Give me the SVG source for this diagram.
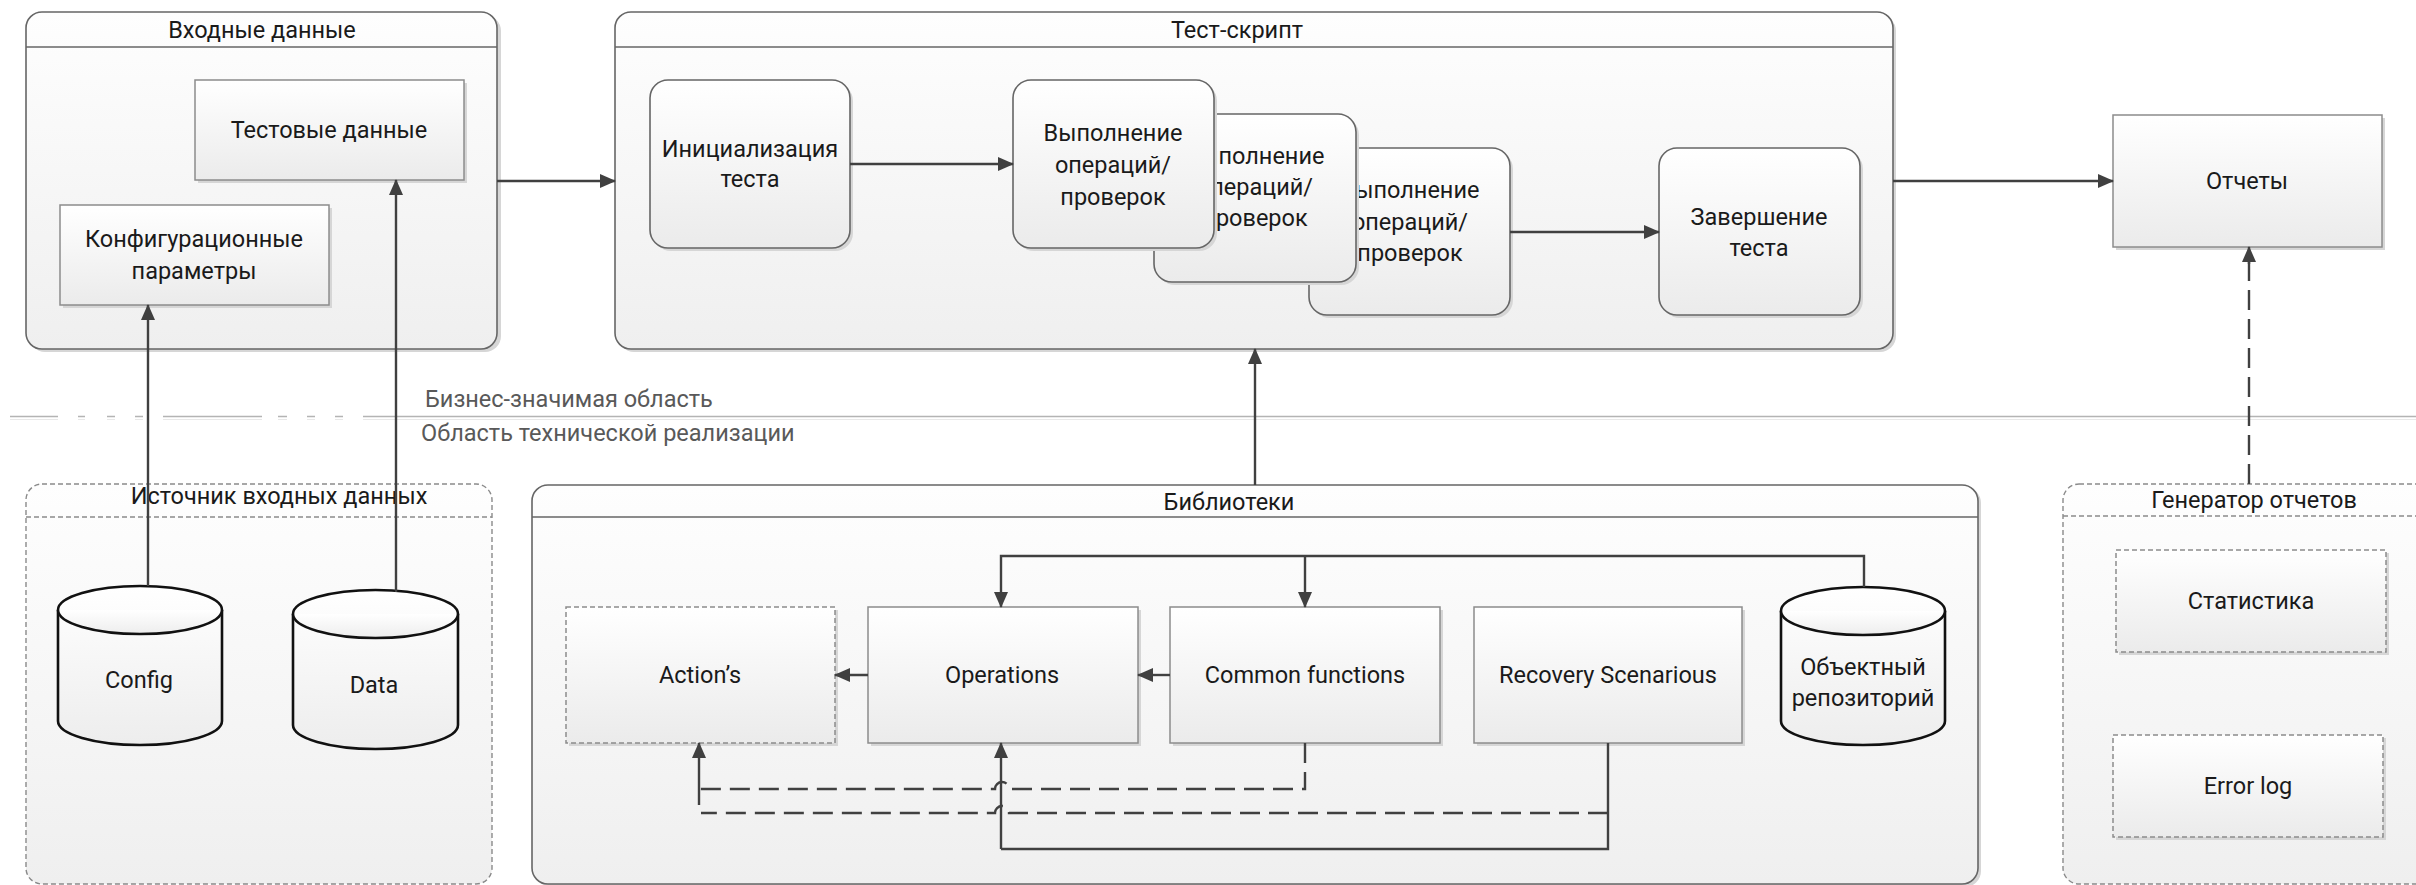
<svg xmlns="http://www.w3.org/2000/svg" width="2416" height="885" viewBox="0 0 2416 885">
<defs>
<linearGradient id="gNode" x1="0" y1="0" x2="0" y2="1"><stop offset="0" stop-color="#ffffff"/><stop offset="1" stop-color="#ebebeb"/></linearGradient>
<linearGradient id="gCont" x1="0" y1="0" x2="0" y2="1"><stop offset="0" stop-color="#fefefe"/><stop offset="1" stop-color="#efefef"/></linearGradient>
<linearGradient id="gCyl" x1="0" y1="0" x2="0" y2="1"><stop offset="0" stop-color="#ffffff"/><stop offset="1" stop-color="#ededed"/></linearGradient>
<marker id="ah" viewBox="0 0 16 14" refX="15" refY="7" markerWidth="16" markerHeight="14" markerUnits="userSpaceOnUse" orient="auto"><path d="M0,0 L16,7 L0,14 Z" fill="#404040"/></marker>
<style>
text{font-family:Roboto,"Noto Sans","Liberation Sans",sans-serif;font-size:23.5px;fill:#1a1a1a;text-anchor:middle}
.lbl{fill:#595959;text-anchor:start}
.cont{fill:url(#gCont);stroke:#666666;stroke-width:1.6}
.contd{fill:url(#gCont);stroke:#8a8a8a;stroke-width:1.4;stroke-dasharray:5 3}
.hdr{stroke:#666666;stroke-width:1.6;fill:none}
.hdrd{stroke:#8a8a8a;stroke-width:1.4;stroke-dasharray:5 3;fill:none}
.shd{fill:#d6d6d6}
.node{fill:url(#gNode);stroke:#8c8c8c;stroke-width:1.5}
.noded{fill:url(#gNode);stroke:#8c8c8c;stroke-width:1.5;stroke-dasharray:5 3}
.rnode{fill:url(#gNode);stroke:#666666;stroke-width:1.6}
.cyl{fill:url(#gCyl);stroke:#111111;stroke-width:2.6}
.cn{fill:none;stroke:#404040;stroke-width:2.4}
.cna{fill:none;stroke:#404040;stroke-width:2.4;marker-end:url(#ah)}
.dash{fill:none;stroke:#404040;stroke-width:2.4;stroke-dasharray:20 9}
</style>
</defs>
<rect width="2416" height="885" fill="#ffffff"/>

<!-- separator -->
<g id="separator">
<line x1="10" y1="416.5" x2="2416" y2="416.5" stroke="#b4b4b4" stroke-width="1.6"/>
<line x1="10" y1="419.5" x2="2416" y2="419.5" stroke="#e8e8e8" stroke-width="1.2"/>
<g fill="#ffffff">
<rect x="58" y="414" width="20" height="7"/><rect x="85" y="414" width="22" height="7"/><rect x="115" y="414" width="20" height="7"/><rect x="143" y="414" width="20" height="7"/>
<rect x="262" y="414" width="16" height="7"/><rect x="287" y="414" width="20" height="7"/><rect x="315" y="414" width="20" height="7"/><rect x="343" y="414" width="20" height="7"/>
</g>
<text class="lbl" x="425" y="407">Бизнес-значимая область</text>
<text class="lbl" x="421" y="441">Область технической реализации</text>
</g>

<!-- top containers -->
<g id="vhodnye">
<rect class="shd" x="29" y="15" width="472" height="337" rx="16"/>
<rect class="cont" x="26" y="12" width="471" height="337" rx="16"/>
<line class="hdr" x1="26" y1="47" x2="497" y2="47"/>
<text x="262" y="38">Входные данные</text>
</g>
<g id="testscript">
<rect class="shd" x="618" y="15" width="1278" height="337" rx="16"/>
<rect class="cont" x="615" y="12" width="1278" height="337" rx="16"/>
<line class="hdr" x1="615" y1="47" x2="1893" y2="47"/>
<text x="1237" y="38">Тест-скрипт</text>
</g>

<g id="testdata">
<rect class="shd" x="198" y="83" width="269" height="100"/>
<rect class="node" x="195" y="80" width="269" height="100"/>
<text x="329" y="138">Тестовые данные</text>
</g>
<g id="config-params">
<rect class="shd" x="63" y="208" width="269" height="100"/>
<rect class="node" x="60" y="205" width="269" height="100"/>
<text x="194" y="247">Конфигурационные</text>
<text x="194" y="279">параметры</text>
</g>

<g id="init">
<rect class="shd" x="653" y="83" width="200" height="168" rx="18"/>
<rect class="rnode" x="650" y="80" width="200" height="168" rx="18"/>
<text x="750" y="157">Инициализация</text>
<text x="750" y="187">теста</text>
</g>
<g id="exec3">
<rect class="shd" x="1312" y="151" width="201" height="167" rx="18"/>
<rect class="rnode" x="1309" y="148" width="201" height="167" rx="18"/>
<text x="1410" y="198">Выполнение</text>
<text x="1410" y="230">операций/</text>
<text x="1410" y="261">проверок</text>
</g>
<g id="exec2">
<rect class="shd" x="1157" y="117" width="202" height="168" rx="18"/>
<rect class="rnode" x="1154" y="114" width="202" height="168" rx="18"/>
<text x="1255" y="164">Выполнение</text>
<text x="1255" y="195">операций/</text>
<text x="1255" y="226">проверок</text>
</g>
<g id="exec1">
<rect class="shd" x="1016" y="83" width="201" height="168" rx="18"/>
<rect class="rnode" x="1013" y="80" width="201" height="168" rx="18"/>
<text x="1113" y="141">Выполнение</text>
<text x="1113" y="173">операций/</text>
<text x="1113" y="205">проверок</text>
</g>
<g id="finish">
<rect class="shd" x="1662" y="151" width="201" height="167" rx="18"/>
<rect class="rnode" x="1659" y="148" width="201" height="167" rx="18"/>
<text x="1759" y="225">Завершение</text>
<text x="1759" y="256">теста</text>
</g>
<g id="reports">
<rect class="shd" x="2116" y="118" width="269" height="132"/>
<rect class="node" x="2113" y="115" width="269" height="132"/>
<text x="2247" y="189">Отчеты</text>
</g>

<!-- bottom containers -->
<g id="source">
<rect class="contd" x="26" y="484" width="466" height="400" rx="16"/>
<line class="hdrd" x1="26" y1="517" x2="492" y2="517"/>
<text x="279" y="504">Источник входных данных</text>
</g>
<g id="libs">
<rect class="shd" x="535" y="487" width="1446" height="400" rx="16"/>
<rect class="cont" x="532" y="485" width="1446" height="399" rx="16"/>
<line class="hdr" x1="532" y1="517" x2="1978" y2="517"/>
<text x="1229" y="510">Библиотеки</text>
</g>
<g id="reportgen">
<rect class="contd" x="2063" y="484" width="380" height="400" rx="16"/>
<line class="hdrd" x1="2063" y1="516" x2="2443" y2="516"/>
<text x="2254" y="508">Генератор отчетов</text>
</g>

<g id="cfg-db">
<path class="cyl" d="M58,610 A82,24 0 0 1 222,610 V721 A82,24 0 0 1 58,721 Z"/>
<path class="cyl" fill="none" d="M58,610 A82,24 0 0 0 222,610"/>
<text x="139" y="688">Config</text>
</g>
<g id="data-db">
<path class="cyl" d="M293,614 A82.5,24 0 0 1 458,614 V725 A82.5,24 0 0 1 293,725 Z"/>
<path class="cyl" fill="none" d="M293,614 A82.5,24 0 0 0 458,614"/>
<text x="374" y="693">Data</text>
</g>

<g id="actions">
<rect class="shd" x="569" y="610" width="269" height="136"/>
<rect class="noded" x="566" y="607" width="269" height="136"/>
<text x="700" y="683">Action’s</text>
</g>
<g id="operations">
<rect class="shd" x="871" y="610" width="270" height="136"/>
<rect class="node" x="868" y="607" width="270" height="136"/>
<text x="1002" y="683">Operations</text>
</g>
<g id="common">
<rect class="shd" x="1173" y="610" width="270" height="136"/>
<rect class="node" x="1170" y="607" width="270" height="136"/>
<text x="1305" y="683">Common functions</text>
</g>
<g id="recovery">
<rect class="shd" x="1477" y="610" width="268" height="136"/>
<rect class="node" x="1474" y="607" width="268" height="136"/>
<text x="1608" y="683">Recovery Scenarious</text>
</g>
<g id="repo">
<path class="cyl" d="M1781,611 A82,24 0 0 1 1945,611 V721 A82,24 0 0 1 1781,721 Z"/>
<path class="cyl" fill="none" d="M1781,611 A82,24 0 0 0 1945,611"/>
<text x="1863" y="675">Объектный</text>
<text x="1863" y="706">репозиторий</text>
</g>

<g id="stats">
<rect class="shd" x="2119" y="553" width="270" height="102"/>
<rect class="noded" x="2116" y="550" width="270" height="102"/>
<text x="2251" y="609">Статистика</text>
</g>
<g id="errorlog">
<rect class="shd" x="2116" y="738" width="270" height="102"/>
<rect class="noded" x="2113" y="735" width="270" height="102"/>
<text x="2248" y="794">Error log</text>
</g>

<!-- connectors -->
<g id="connectors">
<path class="cna" d="M497,181 H615"/>
<path class="cna" d="M850,164 H1013"/>
<path class="cna" d="M1510,232 H1659"/>
<path class="cna" d="M1893,181 H2113"/>
<path class="cna" d="M148,586 V305"/>
<path class="cna" d="M396,592 V180"/>
<path class="cna" d="M1255,485 V349"/>
<path class="dash" d="M2249,484 V262"/>
<path class="cna" d="M2249,264 V247"/>
<path class="cna" d="M1864,587 V556 H1001 V607"/>
<path class="cna" d="M1305,556 V607"/>
<path class="cna" d="M868,675 H835"/>
<path class="cna" d="M1170,675 H1138"/>
<path class="dash" d="M1305,743 V789 H1009 A7,7 0 0 0 995,789 H699"/>
<path class="cn" d="M1608,743 V849 H1001"/>
<path class="cna" d="M1001,849 V743"/>
<path class="dash" d="M1608,813 H1009 A7,7 0 0 0 995,813 H701"/>
<path class="cna" d="M699,805 V743"/>
</g>
</svg>
